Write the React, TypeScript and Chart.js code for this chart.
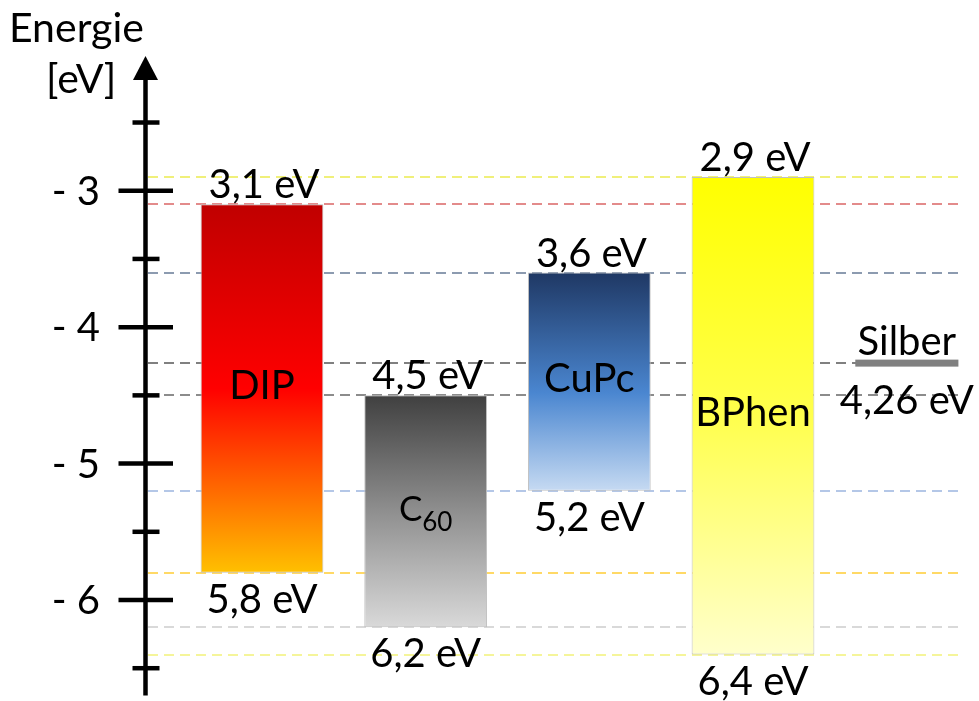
import { useEffect, useRef } from 'react';
import { Chart, registerables } from 'chart.js';

Chart.register(...registerables);

// Energy levels (eV) of the layers: LUMO at the top edge, HOMO at the bottom edge
const materials = ['DIP', 'C60', 'CuPc', 'BPhen'];
const lumoLevels = [-3.1, -4.5, -3.6, -2.9];
const homoLevels = [-5.8, -6.2, -5.2, -6.4];

// Work function of the silver electrode
const electrodeName = 'Silber';
const electrodeLevel = -4.26;

// Energy axis
const majorTicks = [-3, -4, -5, -6];
const majorTickLabels = ['- 3', '- 4', '- 5', '- 6'];
const minorTicks = [-2.5, -3.5, -4.5, -5.5, -6.5];
const axisTitle = ['Energie', '[eV]'];

// Styling
const FONT = 'Lato, "Open Sans", "DejaVu Sans", sans-serif';
const TEXT_SIZE = 40;
const gradientStops: [number, string][][] = [
  [[0, '#c00000'], [0.5, '#ff0000'], [1, '#ffc000']],
  [[0, '#404040'], [0.5, '#8f8f8f'], [1, '#d9d9d9']],
  [[0, '#1f3864'], [0.55, '#4a86d0'], [1, '#c6daf2']],
  [[0, '#ffff00'], [0.5, '#ffff4d'], [1, '#ffffcc']],
];
const lumoLineColors = ['#e38b8b', '#8c8c8c', '#8c9bb0', '#f0f07a'];
const homoLineColors = ['#ffd966', '#d9d9d9', '#b4c7e7', '#f5f59a'];
const electrodeColor = '#808080';

const AXIS_X = 145.5;
const LINE_X0 = 148;
const LINE_X1 = 963;

const formatLevel = (v: number) => String(Math.abs(v)).replace('.', ',') + ' eV';

function drawText(
  ctx: CanvasRenderingContext2D,
  text: string,
  x: number,
  y: number,
  size: number,
  align: CanvasTextAlign = 'center'
) {
  ctx.font = `${size}px ${FONT}`;
  ctx.textAlign = align;
  ctx.textBaseline = 'alphabetic';
  ctx.fillStyle = '#000000';
  ctx.fillText(text, x, y);
}

// Name with a trailing number drawn as subscript (e.g. C60)
function drawName(ctx: CanvasRenderingContext2D, name: string, cx: number, baseline: number) {
  const m = name.match(/^(.*?[A-Za-z])(\d+)$/);
  if (!m) {
    drawText(ctx, name, cx, baseline, TEXT_SIZE);
    return;
  }
  const mainSize = 35;
  const subSize = 26;
  ctx.font = `${mainSize}px ${FONT}`;
  const wMain = ctx.measureText(m[1]).width;
  ctx.font = `${subSize}px ${FONT}`;
  const wSub = ctx.measureText(m[2]).width;
  const x0 = cx - (wMain + wSub) / 2;
  drawText(ctx, m[1], x0, baseline, mainSize, 'left');
  drawText(ctx, m[2], x0 + wMain, baseline + 10, subSize, 'left');
}

const energyDiagram = {
  id: 'energyDiagram',
  beforeDatasetsDraw(chart: any) {
    const { ctx, scales } = chart;
    const y = scales.y;
    const levels: [number, string][] = [
      ...lumoLevels.map((v, i) => [v, lumoLineColors[i]] as [number, string]),
      ...homoLevels.map((v, i) => [v, homoLineColors[i]] as [number, string]),
      [electrodeLevel, electrodeColor],
    ];
    ctx.save();
    ctx.lineWidth = 2;
    ctx.setLineDash([10, 6]);
    for (const [v, c] of levels) {
      const py = Math.round(y.getPixelForValue(v));
      ctx.strokeStyle = c;
      ctx.beginPath();
      ctx.moveTo(LINE_X0, py);
      ctx.lineTo(LINE_X1, py);
      ctx.stroke();
    }
    ctx.restore();
  },
  afterDatasetsDraw(chart: any) {
    const { ctx, scales } = chart;
    const { x, y } = scales;
    const meta = chart.getDatasetMeta(0);
    ctx.save();

    // Layer labels
    materials.forEach((name, i) => {
      const cx = x.getPixelForValue(i);
      const top = y.getPixelForValue(lumoLevels[i]);
      const bottom = y.getPixelForValue(homoLevels[i]);
      drawText(ctx, formatLevel(lumoLevels[i]), cx + 2, top - 6, TEXT_SIZE);
      drawText(ctx, formatLevel(homoLevels[i]), cx, bottom + 40, TEXT_SIZE);
      drawName(ctx, name, cx, (top + bottom) / 2 + 10);
    });

    // Silver electrode level
    const barW = meta.data[0] ? meta.data[0].width : 123;
    const left = x.getPixelForValue(materials.length) - barW / 2;
    const w = barW * 0.84;
    const ey = y.getPixelForValue(electrodeLevel);
    ctx.fillStyle = electrodeColor;
    ctx.fillRect(left, ey - 3, w, 7);
    drawText(ctx, electrodeName, left + w / 2, ey - 8, TEXT_SIZE);
    drawText(ctx, formatLevel(electrodeLevel), left + w / 2, ey + 51, TEXT_SIZE);

    // Energy axis with arrow
    ctx.strokeStyle = '#000000';
    ctx.fillStyle = '#000000';
    ctx.lineWidth = 4.5;
    ctx.setLineDash([]);
    ctx.beginPath();
    ctx.moveTo(AXIS_X, chart.chartArea.bottom);
    ctx.lineTo(AXIS_X, 75);
    ctx.stroke();
    ctx.beginPath();
    ctx.moveTo(AXIS_X, 56);
    ctx.lineTo(AXIS_X - 12.5, 80);
    ctx.lineTo(AXIS_X + 12.5, 80);
    ctx.closePath();
    ctx.fill();

    majorTicks.forEach((v, i) => {
      const py = y.getPixelForValue(v);
      ctx.beginPath();
      ctx.moveTo(AXIS_X - 27, py);
      ctx.lineTo(AXIS_X + 27.5, py);
      ctx.stroke();
      drawText(ctx, majorTickLabels[i], 100, py + 14, TEXT_SIZE, 'right');
    });
    minorTicks.forEach((v) => {
      const py = y.getPixelForValue(v);
      ctx.beginPath();
      ctx.moveTo(AXIS_X - 13, py);
      ctx.lineTo(AXIS_X + 14, py);
      ctx.stroke();
    });

    drawText(ctx, axisTitle[0], 9, 42, TEXT_SIZE + 1, 'left');
    drawText(ctx, axisTitle[1], 46, 93, TEXT_SIZE + 1, 'left');

    ctx.restore();
  },
};

export default function App() {
  const canvasRef = useRef<HTMLCanvasElement | null>(null);

  useEffect(() => {
    const canvas = canvasRef.current;
    if (!canvas) return;

    const chart = new Chart(canvas, {
      type: 'bar',
      data: {
        labels: [...materials, electrodeName],
        datasets: [
          {
            data: [
              ...materials.map((_, i) => [homoLevels[i], lumoLevels[i]] as [number, number]),
              null as any,
            ],
            backgroundColor: (c: any) => {
              const i = c.dataIndex;
              const stops = gradientStops[i] || gradientStops[0];
              const ys = c.chart.scales && c.chart.scales.y;
              if (!ys || i >= materials.length) return stops[0][1];
              const top = ys.getPixelForValue(lumoLevels[i]);
              const bottom = ys.getPixelForValue(homoLevels[i]);
              if (!isFinite(top) || !isFinite(bottom)) return stops[0][1];
              const g = c.chart.ctx.createLinearGradient(0, top, 0, bottom);
              stops.forEach(([o, col]) => g.addColorStop(o, col));
              return g;
            },
            borderColor: '#c0c0c0',
            borderWidth: 1,
            borderSkipped: false,
            categoryPercentage: 1,
            barPercentage: 0.75,
            clip: false as any,
          },
        ],
      },
      options: {
        animation: false,
        responsive: false,
        layout: {
          padding: { left: 262, right: 62.33, top: 54.3, bottom: 5.5 },
        },
        plugins: {
          legend: { display: false },
          tooltip: { enabled: false },
          title: { display: false },
        },
        scales: {
          x: { type: 'category', offset: false, display: false },
          y: { type: 'linear', min: -6.7, max: -2, display: false },
        },
      },
      plugins: [energyDiagram],
    });

    return () => chart.destroy();
  }, []);

  return (
    <div style={{ position: 'fixed', left: 0, top: 0, width: 979, height: 701, background: '#ffffff' }}>
      <canvas ref={canvasRef} width={979} height={701} />
    </div>
  );
}
